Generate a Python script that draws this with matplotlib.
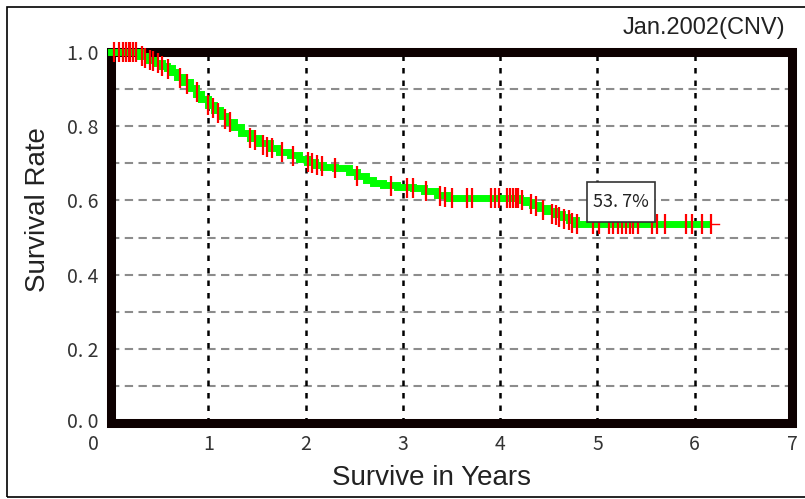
import numpy as np
import matplotlib
matplotlib.use("Agg")
import matplotlib.pyplot as plt
from matplotlib.patches import Rectangle
from matplotlib.transforms import ScaledTranslation

# Kaplan-Meier step curve (time in years, survival rate)
step_t = [0.0, 0.30, 0.37, 0.45, 0.52, 0.575, 0.63, 0.68, 0.74, 0.81, 0.87,
          0.93, 1.00, 1.06, 1.12, 1.19, 1.26, 1.34, 1.43, 1.52, 1.63, 1.73,
          1.84, 1.93, 2.01, 2.10, 2.18, 2.30, 2.45, 2.53, 2.62, 2.69, 2.80,
          2.94, 3.10, 3.22, 3.35, 3.45, 4.20, 4.27, 4.33, 4.40, 4.48, 4.56,
          4.64, 4.71, 4.78]
step_s = [1.0, 0.99, 0.978, 0.97, 0.963, 0.957, 0.945, 0.933, 0.92, 0.903,
          0.888, 0.873, 0.857, 0.843, 0.828, 0.811, 0.797, 0.783, 0.768,
          0.754, 0.741, 0.731, 0.722, 0.712, 0.703, 0.696, 0.690, 0.686,
          0.676, 0.665, 0.655, 0.647, 0.641, 0.636, 0.633, 0.625, 0.615,
          0.607, 0.600, 0.595, 0.588, 0.580, 0.572, 0.563, 0.555, 0.547, 0.537]
green_end = 6.13
red_end = 6.25

# censored observations
cens_t = [0.03, 0.08, 0.12, 0.15, 0.18, 0.20, 0.23, 0.26, 0.32, 0.35, 0.40,
          0.43, 0.48, 0.52, 0.585, 0.71, 0.78, 0.88, 1.00, 1.05, 1.10, 1.17,
          1.22, 1.43, 1.48, 1.56, 1.60, 1.65, 1.76, 1.87, 2.02, 2.07, 2.12,
          2.17, 2.30, 2.53, 2.88, 3.04, 3.10, 3.24, 3.38, 3.43, 3.51, 3.66,
          3.71, 3.91, 3.95, 3.99, 4.07, 4.10, 4.13, 4.16, 4.18, 4.22, 4.32,
          4.37, 4.44, 4.53, 4.57, 4.61, 4.66, 4.71, 4.74, 4.79, 4.95, 5.02,
          5.12, 5.16, 5.21, 5.25, 5.29, 5.33, 5.37, 5.42, 5.56, 5.61, 5.69,
          5.91, 5.97, 6.08, 6.17]
cens_s = [1.0, 1.0, 1.0, 1.0, 1.0, 1.0, 1.0, 1.0, 0.99, 0.985, 0.978,
          0.975, 0.97, 0.963, 0.955, 0.93, 0.915, 0.893, 0.857, 0.85, 0.835,
          0.82, 0.81, 0.768, 0.762, 0.75, 0.745, 0.74, 0.73, 0.72, 0.703,
          0.70, 0.696, 0.693, 0.686, 0.665, 0.64, 0.633, 0.633, 0.625, 0.612,
          0.61, 0.607, 0.607, 0.607, 0.607, 0.607, 0.607, 0.607, 0.607,
          0.607, 0.607, 0.607, 0.600, 0.59, 0.584, 0.575, 0.563, 0.56, 0.555,
          0.55, 0.547, 0.54, 0.537, 0.537, 0.537, 0.537, 0.537, 0.537, 0.537,
          0.537, 0.537, 0.537, 0.537, 0.537, 0.537, 0.537, 0.537, 0.537,
          0.537, 0.537]

x_ticks = [0, 1, 2, 3, 4, 5, 6, 7]
y_ticks = [0.0, 0.2, 0.4, 0.6, 0.8, 1.0]
y_ticklabels = ["0. 0", "0. 2", "0. 4", "0. 6", "0. 8", "1. 0"]
final_rate = "53. 7%"
label_pos = (5.245, 0.596)

W, H = 805, 499
fig = plt.figure(figsize=(W / 100, H / 100), dpi=100, facecolor="white")

# outer thin border
fig.add_artist(Rectangle((7 / W, 2 / H), 1.2, (497 - 7) / H, transform=fig.transFigure,
                         fill=False, edgecolor="black", linewidth=1.2))

ax = fig.add_axes([111 / W, (H - 423) / H, (792 - 111) / W, (423 - 52) / H])
ax.set_xlim(0, 7)
ax.set_ylim(0, 1.0)
for sp in ax.spines.values():
    sp.set_visible(False)

# grid
for y in np.arange(1, 10) / 10:
    ax.axhline(y, color="#8c8c8c", linewidth=1.5, dashes=(4, 2.6), zorder=1)
for x in range(1, 7):
    ax.axvline(x, color="black", linewidth=1.8, dashes=(2.2, 2.8), zorder=1.5)

# heavy frame
ax.add_patch(Rectangle((0, 0), 1, 1, transform=ax.transAxes, fill=False,
                       edgecolor="#0d0000", linewidth=6.5, joinstyle="miter",
                       clip_on=False, zorder=5))

# curve (drawn over the frame like the original)
t_red = list(step_t) + [red_end]
s_red = list(step_s) + [step_s[-1]]
ax.plot(t_red, s_red, color="red", linewidth=1.0, drawstyle="steps-post",
        zorder=11, clip_on=False)
t_green = list(step_t) + [green_end]
s_green = list(step_s) + [step_s[-1]]
ax.plot(t_green, s_green, color="#00ff00", linewidth=5, drawstyle="steps-post",
        solid_joinstyle="miter", zorder=12, clip_on=False)
ax.plot(cens_t, cens_s, linestyle="none", marker="|", markersize=15,
        markeredgewidth=1.6, color="red", zorder=13, clip_on=False)

# annotation box, fixed size (inches) centred on the label position
ax.add_patch(Rectangle((-0.34, -0.20), 0.68, 0.40,
                       transform=fig.dpi_scale_trans + ScaledTranslation(*label_pos, ax.transData),
                       facecolor="white", edgecolor="#333333", linewidth=1.2, zorder=14))
ax.text(*label_pos, final_rate, fontsize=13, family=["Noto Sans CJK JP", "DejaVu Sans"],
        color="#222222", ha="center", va="center", zorder=15)

tick_font = ["Noto Sans CJK JP", "DejaVu Sans"]
ax.set_xticks(x_ticks)
ax.set_xticklabels([str(v) for v in x_ticks], fontsize=14, family=tick_font, color="#333333")
ax.set_yticks(y_ticks)
ax.set_yticklabels(y_ticklabels, fontsize=14, family=tick_font, color="#333333")
ax.tick_params(length=0, pad=9)
ax.tick_params(axis="x", pad=8)
lbl0 = ax.get_xticklabels()[0]
lbl0.set_transform(lbl0.get_transform() + ScaledTranslation(-0.18, 0, fig.dpi_scale_trans))
ylbl0 = ax.get_yticklabels()[0]
ylbl0.set_transform(ylbl0.get_transform() + ScaledTranslation(0, 0.03, fig.dpi_scale_trans))

ax.set_xlabel("Survive in Years", fontsize=20, family="Liberation Sans", color="#222222")
ax.set_ylabel("Survival Rate", fontsize=20, family="Liberation Sans", color="#222222")
ax.xaxis.set_label_coords((431 - 111) / 681, (423 - 478) / 371)
ax.yaxis.set_label_coords((38 - 111) / 681, (423 - 210) / 371)
ax.xaxis.label.set_va("center")
ax.yaxis.label.set_va("center")

fig.text(785 / W, 1 - 28 / H, "Jan.2002(CNV)", fontsize=17, family="Liberation Sans",
         color="#222222", ha="right", va="center")

fig.savefig("out.png", dpi=100)
